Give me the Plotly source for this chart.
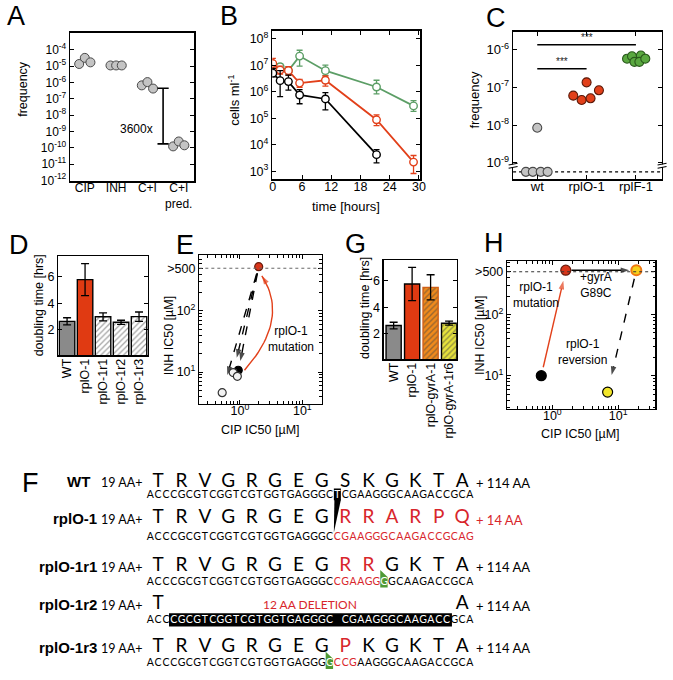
import numpy as np
import plotly.graph_objects as go

# ------------------------------------------------------------------ data
# Panel A: resistance frequencies
a_groups = ["CIP", "INH", "C+I", "C+I<br>pred."]
a_cip = [1.35e-5, 3.2e-5, 1.7e-5]
a_inh = [1.1e-5, 1.1e-5, 1.1e-5]
a_ci = [6.6e-7, 1.05e-6, 4.2e-7]
a_pred = [1.2e-10, 2.4e-10, 1.4e-10]
a_jitter = [-0.18, 0.0, 0.18]
a_fold_range = [4.4e-7, 1.7e-10]
a_fold_label = "3600x"

# Panel B: killing curves (cells/ml)
b_time = [0, 1.5, 3.2, 5.5, 10.8, 21.3, 28.9]
b_green = [7.5e6, 8.7e6, 6.2e6, 2.2e7, 6.2e6, 1.5e6, 2.9e5]
b_green_hi = [1.0e7, 1.15e7, 8.7e6, 3.65e7, 1.0e7, 2.7e6, 4.6e5]
b_green_lo = [5.6e6, 6.2e6, 4.6e6, 9.2e6, 4.1e6, 8.2e5, 1.8e5]
b_red = [1.15e7, 6.5e6, 6.2e6, 2.1e6, 2.7e6, 8.7e4, 2.2e3]
b_red_hi = [1.8e7, 9.2e6, 8.7e6, 2.9e6, 3.9e6, 1.33e5, 3.9e3]
b_red_lo = [7.5e6, 4.6e6, 4.2e6, 1.45e6, 1.63e6, 5.2e4, 8.2e2]
b_black = [5.0e6, 2.6e6, 2.4e6, 7.5e5, 5.3e5, 4.2e3]
b_black_hi = [7.5e6, 6.2e6, 4.2e6, 1.2e6, 9.2e5, 6.5e3]
b_black_lo = [3.6e6, 6.5e5, 1.15e6, 3.5e5, 2.05e5, 2.05e3]

# Panel C: frequencies per strain
c_strains = ["wt", "rplO-1", "rplF-1"]
c_wt = [5.8e-10, 5.8e-10, 5.8e-10, 5.8e-10, 8.5e-9]
c_wt_jit = [-0.23, -0.09, 0.07, 0.21, 0.0]
c_rplO = [6.0e-8, 4.6e-8, 1.35e-7, 5.1e-8, 8.3e-8]
c_rplO_jit = [-0.27, -0.1, 0.0, 0.08, 0.25]
c_rplF = [5.7e-7, 6.6e-7, 4.7e-7, 6.9e-7, 4.7e-7, 5.7e-7]
c_rplF_jit = [-0.18, -0.08, -0.03, 0.1, 0.07, 0.19]
c_detect_limit = 5.8e-10
c_sig_pairs = [(0, 1, 3.1e-7), (0, 2, 1.33e-6)]

# Panel D: doubling times
d_strains = ["WT", "rplO-1", "rplO-1r1", "rplO-1r2", "rplO-1r3"]
d_vals = [2.64, 5.76, 2.98, 2.57, 2.99]
d_err = [0.27, 1.2, 0.3, 0.15, 0.35]

# Panel E: IC50 (CIP, INH)
e_strains = ["rplO-1", "WT", "rplO-1r1", "rplO-1r2", "rplO-1r3"]
e_cip = [2.0, 0.94, 0.78, 0.91, 0.52]
e_inh = [530, 10.7, 9.8, 8.5, 4.6]

# Panel G: doubling times
g_strains = ["WT", "rplO-1", "rplO-gyrA-1", "rplO-gyrA-1r6"]
g_vals = [2.62, 5.75, 5.5, 2.8]
g_err = [0.25, 1.25, 0.95, 0.15]

# Panel H: IC50
h_strains = ["WT", "rplO-1", "rplO-gyrA-1", "rplO-gyrA-1r6"]
h_cip = [0.68, 1.6, 18.8, 6.9]
h_inh = [10, 530, 530, 5.4]

# Panel F: sequences
f_rows = ["WT", "rplO-1", "rplO-1r1", "rplO-1r2", "rplO-1r3"]
f_aa = ["TRVGRGEGSKGKTA", "TRVGRGEGRRARPQ", "TRVGRGEGRRGKTA",
        "T            A", "TRVGRGEGPKGKTA"]
f_aa_col = ["k" * 14, "k" * 8 + "r" * 6, "k" * 8 + "rr" + "k" * 4,
            "k" * 14, "k" * 8 + "r" + "k" * 5]
f_nt = ["ACCCGCGTCGGTCGTGGTGAGGGCTCGAAGGGCAAGACCGCA",
        "ACCCGCGTCGGTCGTGGTGAGGGCCGAAGGGCAAGACCGCAG",
        "ACCCGCGTCGGTCGTGGTGAGGGCCGAAGGGGCAAGACCGCA",
        "ACCCGCGTCGGTCGTGGTGAGGGC CGAAGGGCAAGACCGCA",
        "ACCCGCGTCGGTCGTGGTGAGGGGCCGAAGGGCAAGACCGCA"]
# k = black, r = red, B = white on black, G = white on green flag
f_nt_col = ["k" * 24 + "B" + "k" * 17,
            "k" * 24 + "r" * 18,
            "k" * 24 + "r" * 6 + "G" + "k" * 11,
            "kkk" + "B" * 36 + "kkk",
            "k" * 23 + "G" + "rrr" + "k" * 15]
f_prefix = "19 AA+"
f_suffix = ["+ 114 AA", "+ 14 AA", "+ 114 AA", "+ 114 AA", "+ 114 AA"]
f_suffix_col = ["k", "r", "k", "k", "k"]
f_deletion_label = "12 AA DELETION"

# ------------------------------------------------------------------ style
FW, FH = 673, 680
FONT = "Liberation Sans, Arial, sans-serif"
SEQ = "Lato, Open Sans, sans-serif"
RED = "#e2401a"
GREEN_B = "#5c9e66"
SEQ_RED = "#d8262c"
COLS = {"k": "black", "r": SEQ_RED, "B": "white", "G": "white"}


def dx(p0, p1):
    return [p0 / FW, p1 / FW]


def dy(top, bottom):
    return [1 - bottom / FH, 1 - top / FH]


def lg(v):
    return float(np.log10(v))


def lerp_log(p, q, t):
    return 10 ** (lg(p) + t * (lg(q) - lg(p)))


def sup(e):
    return "10<sup>%d</sup>" % e


fig = go.Figure()

# ------------------------------------------------------------------ A
for i, vals in enumerate([a_cip, a_inh, a_ci, a_pred]):
    fig.add_trace(go.Scatter(
        x=[i + j for j in a_jitter], y=vals, mode="markers",
        marker=dict(size=9, color="#c4c4c4", line=dict(color="#4a4a4a", width=1)),
        xaxis="x", yaxis="y"))
fig.add_trace(go.Scatter(
    x=[2.5, 2.5], y=a_fold_range, mode="lines+markers",
    line=dict(color="black", width=1.6),
    marker=dict(symbol="line-ew", size=8, line=dict(color="black", width=1.6)),
    xaxis="x", yaxis="y"))

# ------------------------------------------------------------------ B
for vals, hi, lo, col in [(b_green, b_green_hi, b_green_lo, GREEN_B),
                          (b_red, b_red_hi, b_red_lo, RED),
                          (b_black, b_black_hi, b_black_lo, "black")]:
    n = len(vals)
    fig.add_trace(go.Scatter(
        x=b_time[:n], y=vals, mode="lines+markers",
        line=dict(color=col, width=1.8),
        marker=dict(size=7.5, color="white", line=dict(color=col, width=1.4)),
        error_y=dict(type="data", symmetric=False,
                     array=[h - v for h, v in zip(hi, vals)],
                     arrayminus=[v - l for v, l in zip(vals, lo)],
                     color=col, thickness=1.3, width=3),
        xaxis="x2", yaxis="y2"))

# ------------------------------------------------------------------ C
for base, vals, jit, fill, edge in [(0, c_wt, c_wt_jit, "#c4c4c4", "#4a4a4a"),
                                    (1, c_rplO, c_rplO_jit, "#e2401a", "#5a1808"),
                                    (2, c_rplF, c_rplF_jit, "#5aa840", "#2a5a1c")]:
    fig.add_trace(go.Scatter(
        x=[base + j for j in jit], y=vals, mode="markers",
        marker=dict(size=9, color=fill, line=dict(color=edge, width=1.1)),
        xaxis="x3", yaxis="y3"))

# ------------------------------------------------------------------ D
fig.add_trace(go.Bar(
    x=d_strains, y=d_vals, width=0.86,
    error_y=dict(type="data", array=d_err, color="black", thickness=1.3, width=4),
    marker=dict(color=["#8a8a8a", "#e03a12", "white", "white", "white"],
                line=dict(color="black", width=1.4),
                pattern=dict(shape=["", "", "/", "/", "/"], fgcolor="#a8a8a8",
                             size=4, solidity=0.3, fillmode="overlay")),
    xaxis="x4", yaxis="y4"))

# ------------------------------------------------------------------ G
fig.add_trace(go.Bar(
    x=g_strains, y=g_vals, width=0.82,
    error_y=dict(type="data", array=g_err, color="black", thickness=1.3, width=4),
    marker=dict(color=["#8a8a8a", "#e03a12", "#f08a1c", "#e6e23c"],
                line=dict(color=["black", "black", "#d06018", "black"], width=1.4),
                pattern=dict(shape=["", "", "/", "/"],
                             fgcolor=["black", "black", "#f7e22a", "#8a8a10"],
                             size=4, solidity=0.35, fillmode="overlay")),
    xaxis="x6", yaxis="y6"))


# ------------------------------------------------------------------ arrows
def arrow_trace(xs, ys, color, dash, xa, ya, head=9, width=1.4):
    n = len(xs)
    return go.Scatter(
        x=xs, y=ys, mode="lines+markers",
        line=dict(color=color, width=width, dash=dash),
        marker=dict(symbol=["circle"] * (n - 1) + ["arrow"],
                    size=[0] * (n - 1) + [head], angleref="previous",
                    color=color, line=dict(width=0)),
        xaxis=xa, yaxis=ya, hoverinfo="skip")


def straight(p, q, t0, t1, color, dash, xa, ya):
    xs = [lerp_log(p[0], q[0], t0), lerp_log(p[0], q[0], t1)]
    ys = [lerp_log(p[1], q[1], t0), lerp_log(p[1], q[1], t1)]
    return arrow_trace(xs, ys, color, dash, xa, ya)


# E: dashed arrows from rplO-1 to each revertant
src = (e_cip[0], e_inh[0])
for k in (2, 3, 4):
    fig.add_trace(straight(src, (e_cip[k], e_inh[k]), 0.06, 0.86, "black", "dash", "x5", "y5"))
# E: curved red arrow (WT -> rplO-1) as a quadratic Bezier in log space
p0 = np.array([lg(e_cip[1]) + 0.1, lg(e_inh[1])])
p2 = np.array([lg(e_cip[0]) + 0.05, lg(e_inh[0]) - 0.15])
p1 = np.array([max(p0[0], p2[0]) + 0.45, (p0[1] + p2[1]) / 2 + 0.07])
tt = np.linspace(0, 1, 30)
curve = [(1 - t) ** 2 * p0 + 2 * (1 - t) * t * p1 + t ** 2 * p2 for t in tt]
fig.add_trace(arrow_trace([10 ** c[0] for c in curve], [10 ** c[1] for c in curve],
                          RED, "solid", "x5", "y5", head=9, width=1.4))

# E markers
e_fill = ["#d9361a", "black", "#f2f2f2", "#f2f2f2", "#f2f2f2"]
e_edge = ["#6a1a0a", "black", "#333333", "#333333", "#333333"]
fig.add_trace(go.Scatter(
    x=e_cip, y=e_inh, mode="markers",
    marker=dict(size=8, color=e_fill, line=dict(color=e_edge, width=1.2)),
    xaxis="x5", yaxis="y5"))

# H arrows
hp = list(zip(h_cip, h_inh))
fig.add_trace(straight(hp[0], hp[1], 0.08, 0.9, RED, "solid", "x7", "y7"))
fig.add_trace(straight(hp[1], hp[2], 0.08, 0.9, "black", "solid", "x7", "y7"))
fig.add_trace(straight(hp[2], hp[3], 0.07, 0.86, "black", "dash", "x7", "y7"))
fig.add_trace(go.Scatter(
    x=h_cip, y=h_inh, mode="markers",
    marker=dict(size=10, color=["black", "#d9361a", "#f7d01c", "#f2e62a"],
                line=dict(color=["black", "#6a1a0a", "#f07812", "black"],
                          width=[1.2, 1.2, 2.0, 1.2])),
    xaxis="x7", yaxis="y7"))

# ------------------------------------------------------------------ F (sequence panel)
ROW_AA_Y = [486, 523, 571, 610, 653]
ROW_NT_Y = [500, 541.5, 587, 626, 669.5]
shapes = []
annotations = []

for r in range(len(f_rows)):
    aa, ac = f_aa[r], f_aa_col[r]
    idx = [i for i, c in enumerate(aa) if c != " "]
    fig.add_trace(go.Scatter(
        x=[3 * i + 1 for i in idx], y=[ROW_AA_Y[r]] * len(idx), mode="text",
        text=[aa[i] for i in idx],
        textfont=dict(family=SEQ, size=19, color=[COLS[ac[i]] for i in idx]),
        xaxis="x8", yaxis="y8", hoverinfo="skip"))
    nt, nc = f_nt[r], f_nt_col[r]
    # highlight backgrounds
    j = 0
    while j < len(nc):
        if nc[j] in "BG":
            k = j
            while k + 1 < len(nc) and nc[k + 1] == nc[j]:
                k += 1
            y = ROW_NT_Y[r]
            if nc[j] == "B" and k == j:
                shapes.append(dict(type="rect", xref="x8", yref="y8",
                                   x0=j - 0.45, x1=j + 0.45, y0=y - 7.5, y1=y + 4.5,
                                   fillcolor="black", line=dict(width=0), layer="below"))
                # wedge showing deletion into next row
                shapes.append(dict(type="path", xref="x8", yref="y8",
                                   path="M %f,%f L %f,%f L %f,%f Z" % (
                                       j - 0.38, y + 4, j + 0.45, y + 4,
                                       j - 0.45, ROW_AA_Y[r + 1] + 14),
                                   fillcolor="black", line=dict(width=0), layer="below"))
            elif nc[j] == "B":
                shapes.append(dict(type="rect", xref="x8", yref="y8",
                                   x0=j - 0.6, x1=k + 0.7, y0=y - 7.5, y1=y + 6,
                                   fillcolor="black", line=dict(width=0), layer="below"))
                annotations.append(dict(xref="x8", yref="y8", x=(j + k) / 2, y=ROW_AA_Y[r],
                                        text=f_deletion_label, showarrow=False,
                                        xanchor="center", yanchor="middle",
                                        font=dict(family=SEQ, size=12, color=SEQ_RED)))
            else:
                shapes.append(dict(type="path", xref="x8", yref="y8",
                                   path="M %f,%f L %f,%f L %f,%f L %f,%f Z" % (
                                       j - 0.5, y - 12, j + 0.45, y - 5,
                                       j + 0.45, y + 5.5, j - 0.5, y + 5.5),
                                   fillcolor="#4f9a35", line=dict(width=0), layer="below"))
            j = k + 1
        else:
            j += 1
    idx = [i for i, c in enumerate(nt) if c != " "]
    fig.add_trace(go.Scatter(
        x=idx, y=[ROW_NT_Y[r]] * len(idx), mode="text",
        text=[nt[i] for i in idx],
        textfont=dict(family=SEQ, size=10.5, color=[COLS[nc[i]] for i in idx]),
        xaxis="x8", yaxis="y8", hoverinfo="skip"))
    annotations.append(dict(xref="x8", yref="y8", x=-7.5 if r == 0 else -6.6, y=ROW_AA_Y[r],
                            text="<b>%s</b>" % f_rows[r], showarrow=False,
                            xanchor="right", yanchor="middle",
                            font=dict(family=FONT, size=15, color="black")))
    annotations.append(dict(xref="x8", yref="y8", x=-0.85, y=ROW_AA_Y[r] + 1,
                            text=f_prefix, showarrow=False, xanchor="right", yanchor="middle",
                            font=dict(family=SEQ, size=12.5, color="black")))
    annotations.append(dict(xref="x8", yref="y8", x=41.5, y=ROW_AA_Y[r] + 1,
                            text=f_suffix[r], showarrow=False, xanchor="left", yanchor="middle",
                            font=dict(family=SEQ, size=13, color=COLS[f_suffix_col[r]])))

# ------------------------------------------------------------------ shapes for plots
shapes += [
    dict(type="line", xref="x5 domain", yref="y5", x0=0, x1=1, y0=500, y1=500,
         line=dict(color="#666", width=1, dash="dot")),
    dict(type="line", xref="x7 domain", yref="y7", x0=0, x1=1, y0=500, y1=500,
         line=dict(color="#333", width=1, dash="dot")),
    dict(type="line", xref="x3 domain", yref="y3", x0=0, x1=1,
         y0=c_detect_limit, y1=c_detect_limit, line=dict(color="black", width=1.3, dash="dot"),
         layer="below"),
]
for a, b, yv in c_sig_pairs:
    shapes.append(dict(type="line", xref="x3", yref="y3", x0=a, x1=b, y0=yv, y1=yv,
                       line=dict(color="black", width=1.5)))
    annotations.append(dict(xref="x3", yref="y3", x=(a + b) / 2, y=lg(yv) + 0.2,
                            text="***", showarrow=False, xanchor="center", yanchor="middle",
                            font=dict(family=FONT, size=10, color="#222")))
# axis break marks on panel C
for xe in (0, 1):
    shapes.append(dict(type="rect", xref="x3 domain", yref="y3 domain",
                       x0=xe - 0.03, x1=xe + 0.03, y0=0.082, y1=0.1,
                       fillcolor="white", line=dict(width=0)))
    for yb in (0.08, 0.102):
        shapes.append(dict(type="line", xref="x3 domain", yref="y3 domain",
                           x0=xe - 0.03, x1=xe + 0.03, y0=yb - 0.006, y1=yb + 0.006,
                           line=dict(color="black", width=1.2)))


# ------------------------------------------------------------------ text annotations
def pa(x, y, text, size=13, angle=0, **kw):
    d = dict(xref="paper", yref="paper", x=x / FW, y=1 - y / FH, text=text,
             showarrow=False, textangle=angle, xanchor="center", yanchor="middle",
             font=dict(family=FONT, size=size, color="black"))
    d.update(kw)
    annotations.append(d)


for letter, x, y in [("A", 13, 15), ("B", 229, 15), ("C", 500, 17), ("D", 16, 247),
                     ("E", 184, 247), ("G", 357, 246), ("H", 498, 245), ("F", 28, 487)]:
    pa(x, y, letter, size=27)

pa(20, 89, "frequency", 12.5, -90)
pa(234, 100, "cells ml<sup>-1</sup>", 13, -90)
pa(348, 208, "time [hours]", 13)
pa(478, 100, "frequency", 13, -90)
pa(36, 308, "doubling time [hrs]", 12.5, -90)
pa(367, 310, "doubling time [hrs]", 12.5, -90)
pa(168, 338, "INH IC50 [\u00b5M]", 12.5, -90)
pa(483, 338, "INH IC50 [\u00b5M]", 12.5, -90)
pa(261, 433, "CIP IC50 [\u00b5M]", 12.5)
pa(585, 437, "CIP IC50 [\u00b5M]", 12.5)


def da(xr, yr, x, y, text, size=12):
    annotations.append(dict(xref=xr, yref=yr, x=x, y=y, text=text, showarrow=False,
                            xanchor="center", yanchor="middle",
                            font=dict(family=FONT, size=size, color="black")))


da("x", "y", 1.64, -8.85, a_fold_label)
da("x5", "y5", 0.817, 1.54, "rplO-1<br>mutation")
da("x7", "y7", -0.25, 2.32, "rplO-1<br>mutation")
da("x7", "y7", 0.66, 2.49, "+gyrA<br>G89C")
da("x7", "y7", 0.454, 1.39, "rplO-1<br>reversion")


# ------------------------------------------------------------------ axes
def ax(domain, size=12.5, **kw):
    d = dict(domain=domain, showline=True, linecolor="black", linewidth=1.4,
             mirror="ticks", ticks="inside", ticklen=4, tickcolor="black",
             showgrid=False, zeroline=False,
             tickfont=dict(family=FONT, size=size, color="black"))
    d.update(kw)
    return d


def minor_vals(lo, hi):
    out = []
    for e in range(-2, 4):
        for m in range(2, 10):
            v = m * 10 ** e
            if lo <= v <= hi:
                out.append(v)
    return out


MINOR = dict(ticks="inside", ticklen=2.5, tickcolor="black")
XSO = -5

layout_axes = dict(
    xaxis=ax(dx(68, 194), 12, range=[-0.47, 3.5], tickvals=[0, 1, 2, 3],
             ticktext=a_groups, ticks="", ticklabelstandoff=XSO),
    yaxis=ax(dy(32, 182), 12, type="log", range=[-12.05, -2.95],
             tickvals=[10.0 ** e for e in range(-12, -3)],
             ticktext=[sup(e) for e in range(-12, -3)], anchor="x"),
    xaxis2=ax(dx(273, 423), 12.5, range=[-0.1, 30.3], tickvals=list(range(0, 31, 6)),
              anchor="y2", ticklabelstandoff=XSO),
    yaxis2=ax(dy(30, 180), 12.5, type="log", range=[2.7, 8.3],
              tickvals=[10.0 ** e for e in range(3, 9)],
              ticktext=[sup(e) for e in range(3, 9)], anchor="x2"),
    xaxis3=ax(dx(517, 668), 13, range=[-0.49, 2.53], tickvals=[0, 1, 2],
              ticktext=c_strains, anchor="y3", ticklabelstandoff=XSO),
    yaxis3=ax(dy(31, 180), 13, type="log", range=[-9.43, -5.53],
              tickvals=[10.0 ** e for e in range(-9, -5)],
              ticktext=[sup(e) for e in range(-9, -5)], anchor="x3"),
    xaxis4=ax(dx(56, 147), 12.5, range=[-0.49, 4.5], tickangle=-90, ticks="",
              anchor="y4", type="category", ticklabelstandoff=-3),
    yaxis4=ax(dy(258, 358), 12.5, range=[0.1, 7.5], tickvals=[2, 4, 6], anchor="x4"),
    xaxis5=ax(dx(199, 323), 12.5, type="log", range=[-0.65, 1.31], tickvals=[1, 10],
              ticktext=[sup(0), sup(1)], anchor="y5", ticklabelstandoff=XSO,
              minor=dict(tickvals=minor_vals(10 ** -0.65, 10 ** 1.31), **MINOR)),
    yaxis5=ax(dy(257, 407), 12.5, type="log", range=[0.48, 2.91], tickvals=[10, 100, 500],
              ticktext=[sup(1), sup(2), ">500"], anchor="x5",
              minor=dict(tickvals=minor_vals(10 ** 0.48, 10 ** 2.91), **MINOR)),
    xaxis6=ax(dx(386, 460), 12.5, range=[-0.53, 3.42], tickangle=-90, ticks="",
              anchor="y6", type="category", ticklabelstandoff=-3),
    yaxis6=ax(dy(262, 362), 12.5, range=[0.08, 7.54], tickvals=[2, 4, 6], anchor="x6"),
    xaxis7=ax(dx(511, 661), 12.5, type="log", range=[-0.685, 1.56], tickvals=[1, 10],
              ticktext=[sup(0), sup(1)], anchor="y7", ticklabelstandoff=XSO,
              minor=dict(tickvals=minor_vals(10 ** -0.685, 10 ** 1.56), **MINOR)),
    yaxis7=ax(dy(263, 412), 12.5, type="log", range=[0.46, 2.87], tickvals=[10, 100, 500],
              ticktext=[sup(1), sup(2), ">500"], anchor="x7",
              minor=dict(tickvals=minor_vals(10 ** 0.46, 10 ** 2.87), **MINOR)),
    xaxis8=dict(domain=[0, 1], range=[-149.3 / 7.9, (FW - 149.3) / 7.9], visible=False,
                anchor="y8"),
    yaxis8=dict(domain=[0, 1 - 465 / FH], range=[FH, 465], visible=False, anchor="x8"),
)

fig.update_layout(
    width=FW, height=FH, margin=dict(l=0, r=0, t=0, b=0),
    paper_bgcolor="white", plot_bgcolor="white", showlegend=False,
    font=dict(family=FONT, color="black"),
    shapes=shapes, annotations=annotations, bargap=0.1,
    **layout_axes)

fig.write_html("out.html",
               config={"displayModeBar": False, "staticPlot": True},
               post_script="document.body.style.margin='0';"
                           "document.body.style.overflow='hidden';")
